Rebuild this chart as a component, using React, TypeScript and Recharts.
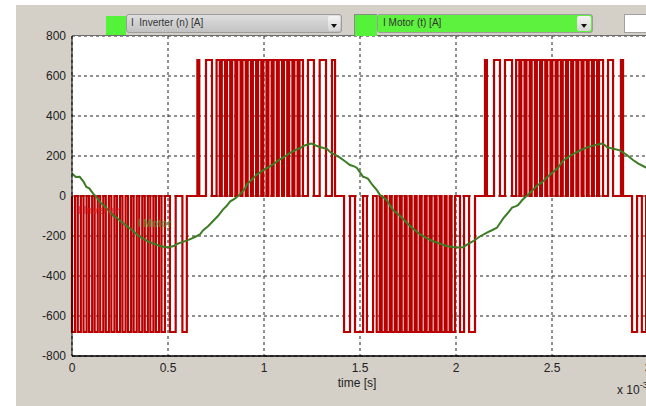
import React from 'react';
import { LineChart, Line, XAxis, YAxis, CartesianGrid } from 'recharts';

// ---- axis ticks ----
const xTicks = [0, 0.5, 1, 1.5, 2, 2.5, 3];
const yTicks = [-800, -600, -400, -200, 0, 200, 400, 600, 800];

// ---- inverter current: PWM pulses [start, end] in ms (x10^-3 s) ----
const inverterLevelNeg = -680;
const inverterLevelPos = 680;
const negPulsesA = [
  [0.000, 0.016], [0.030, 0.046], [0.060, 0.076], [0.089, 0.105], [0.118, 0.134],
  [0.147, 0.163], [0.176, 0.192], [0.205, 0.221], [0.234, 0.250], [0.263, 0.279],
  [0.292, 0.308], [0.321, 0.337], [0.350, 0.366], [0.379, 0.395], [0.408, 0.424],
  [0.437, 0.453], [0.466, 0.484], [0.510, 0.540], [0.575, 0.598],
];
const posPulsesA = [
  [0.653, 0.663], [0.698, 0.729], [0.753, 0.770], [0.780, 0.797], [0.807, 0.824],
  [0.834, 0.851], [0.861, 0.878], [0.888, 0.905], [0.915, 0.932], [0.942, 0.959],
  [0.969, 0.986], [0.996, 1.013], [1.023, 1.040], [1.050, 1.067], [1.077, 1.094],
  [1.104, 1.121], [1.131, 1.148], [1.158, 1.175], [1.185, 1.203], [1.229, 1.260],
  [1.290, 1.323], [1.354, 1.370],
];
const negPulsesB = [
  [1.417, 1.448], [1.474, 1.516], [1.536, 1.568], [1.587, 1.603], [1.613, 1.629],
  [1.639, 1.655], [1.665, 1.681], [1.691, 1.707], [1.717, 1.733], [1.743, 1.759],
  [1.769, 1.785], [1.795, 1.811], [1.821, 1.837], [1.847, 1.863], [1.873, 1.889],
  [1.899, 1.915], [1.925, 1.941], [1.951, 1.967], [1.977, 1.995], [2.021, 2.042],
  [2.068, 2.099],
];
const posPulsesB = [
  [2.151, 2.161], [2.198, 2.229], [2.255, 2.292], [2.313, 2.330], [2.340, 2.357],
  [2.367, 2.384], [2.394, 2.411], [2.421, 2.438], [2.448, 2.465], [2.475, 2.492],
  [2.502, 2.519], [2.529, 2.546], [2.556, 2.573], [2.583, 2.600], [2.610, 2.627],
  [2.637, 2.654], [2.664, 2.681], [2.691, 2.708], [2.718, 2.735], [2.745, 2.766],
  [2.792, 2.818], [2.859, 2.870],
];
const negPulsesC = [
  [2.917, 2.943], [2.968, 2.990],
];

// ---- motor current samples ----
const motorTime = [
  0, 0.02, 0.04, 0.06, 0.075, 0.09, 0.11, 0.13, 0.15, 0.17, 0.19, 0.215, 0.235, 0.255, 0.285,
  0.31, 0.335, 0.355, 0.38, 0.405, 0.43, 0.46, 0.49, 0.51, 0.53, 0.547, 0.57, 0.6, 0.625, 0.65,
  0.668, 0.682, 0.71, 0.735, 0.76, 0.786, 0.805, 0.823, 0.85, 0.875, 0.9, 0.911, 0.935, 0.964,
  0.98, 0.995, 1.02, 1.05, 1.075, 1.099, 1.13, 1.16, 1.188, 1.205, 1.224, 1.245, 1.26, 1.275,
  1.292, 1.31, 1.328, 1.344, 1.37, 1.396, 1.42, 1.448, 1.47, 1.484, 1.5, 1.516, 1.53, 1.542,
  1.565, 1.589, 1.604, 1.62, 1.641, 1.66, 1.672, 1.693, 1.72, 1.75, 1.776, 1.81, 1.849, 1.88,
  1.917, 1.95, 1.984, 2.01, 2.036, 2.06, 2.089, 2.12, 2.161, 2.19, 2.214, 2.23, 2.245, 2.27,
  2.292, 2.31, 2.323, 2.345, 2.37, 2.395, 2.422, 2.45, 2.474, 2.5, 2.53, 2.557, 2.59, 2.62,
  2.646, 2.68, 2.714, 2.74, 2.76, 2.775, 2.786, 2.82, 2.854, 2.89, 2.922, 2.95, 2.984, 3.0,
];
const motorCurrent = [
  112, 95, 96, 72, 45, 38, 12, -8, -35, -50, -72, -98, -110, -128, -150,
  -168, -190, -205, -218, -232, -240, -250, -256, -255, -250, -240, -232, -222, -212, -200,
  -190, -172, -150, -125, -100, -68, -50, -28, -12, 8, 35, 58, 80, 108,
  118, 128, 142, 160, 178, 192, 212, 228, 240, 250, 256, 262, 258, 250,
  245, 240, 236, 220, 206, 192, 175, 155, 148, 140, 118, 96, 92, 86,
  55, 28, 5, -5, -22, -52, -70, -86, -110, -140, -163, -190, -212, -226,
  -238, -250, -255, -258, -256, -242, -226, -205, -183, -170, -158, -135, -113, -85,
  -58, -52, -46, -20, 2, 25, 52, 70, 93, 115, 140, 176, 198, 215,
  228, 242, 252, 258, 262, 255, 244, 236, 228, 205, 180, 162, 145, 138,
];

// ---- build series ----
type Pt = { t: number; v: number };
const pulseBlocks: [number[][], number][] = [
  [negPulsesA, inverterLevelNeg],
  [posPulsesA, inverterLevelPos],
  [negPulsesB, inverterLevelNeg],
  [posPulsesB, inverterLevelPos],
  [negPulsesC, inverterLevelNeg],
];
const inverterData: Pt[] = [];
pulseBlocks.forEach(([pulses, level]) => {
  pulses.forEach(([s, e]) => {
    inverterData.push({ t: s, v: 0 }, { t: s, v: level }, { t: e, v: level }, { t: e, v: 0 });
  });
});
inverterData.push({ t: 3, v: 0 });

const motorData: Pt[] = motorTime.map((t, i) => ({ t, v: motorCurrent[i] }));

const FONT = '"Liberation Sans", Arial, sans-serif';

const Arrow = () => (
  <div style={{ width: 0, height: 0, borderLeft: '3.5px solid transparent', borderRight: '3.5px solid transparent', borderTop: '4px solid #111', margin: '8px auto 0' }} />
);

export default function App() {
  return (
    <div style={{ position: 'absolute', left: 0, top: 0, width: 646, height: 406, overflow: 'hidden', background: '#fff', fontFamily: FONT }}>
      <div style={{ position: 'absolute', left: 16, top: 5, width: 640, height: 410, background: '#d4d0c8' }} />
      <div style={{ position: 'absolute', left: 0, top: 0 }}>
        <LineChart width={660} height={406} margin={{ top: 36, right: 12, left: 0, bottom: 0 }}>
          <CartesianGrid fill="#fff" stroke="#222" strokeDasharray="3 3" horizontalValues={yTicks} verticalValues={xTicks} />
          <XAxis
            dataKey="t"
            type="number"
            domain={[0, 3]}
            ticks={xTicks}
            allowDuplicatedCategory={false}
            height={50}
            tickSize={0}
            tickMargin={7}
            tick={{ fill: '#222', fontSize: 12, fontFamily: FONT }}
            axisLine={{ stroke: '#000', strokeWidth: 1.5 }}
            interval={0}
          />
          <YAxis
            dataKey="v"
            type="number"
            width={72}
            domain={[-800, 800]}
            ticks={yTicks}
            tickSize={0}
            tickMargin={6}
            tick={{ fill: '#222', fontSize: 12, fontFamily: FONT }}
            axisLine={{ stroke: '#000', strokeWidth: 1 }}
            interval={0}
          />
          <Line data={inverterData} dataKey="v" type="linear" stroke="#b80000" strokeWidth={2.2} dot={false} activeDot={false} isAnimationActive={false} />
          <Line data={motorData} dataKey="v" type="linear" stroke="#3c7d23" strokeWidth={2} dot={false} activeDot={false} isAnimationActive={false} />
        </LineChart>
      </div>
      {/* plot top border */}
      <div style={{ position: 'absolute', left: 72, top: 35, width: 580, height: 1, background: '#6e6e6e' }} />
      {/* in-plot labels */}
      <div style={{ position: 'absolute', left: 78, top: 205, fontSize: 10, fontWeight: 'bold', color: '#d42020', opacity: 0.75 }}>I Inverter</div>
      <div style={{ position: 'absolute', left: 138, top: 218, fontSize: 10, fontWeight: 'bold', color: '#5f8f2a', opacity: 0.75 }}>I Motor</div>
      {/* header */}
      <div style={{ position: 'absolute', left: 106, top: 16, width: 20, height: 19, background: '#55f23a' }} />
      <div style={{ position: 'absolute', left: 126, top: 14, width: 214, height: 17, background: 'linear-gradient(#dedede,#c2c2c2)', border: '1px solid #9c9c9c', borderRadius: 3 }}>
        <div style={{ position: 'absolute', left: 4, top: 2, fontSize: 10, color: '#333', whiteSpace: 'pre' }}>{'I  Inverter (n) [A]'}</div>
        <div style={{ position: 'absolute', right: 1, top: 1, width: 12, height: 15, background: 'linear-gradient(#f4f4f4,#d6d6d6)', borderRadius: 2 }}><Arrow /></div>
      </div>
      <div style={{ position: 'absolute', left: 354, top: 14, width: 23, height: 22, background: '#55f23a', borderTop: '1px solid #8a8a8a', borderLeft: '1px solid #8a8a8a', boxSizing: 'border-box' }} />
      <div style={{ position: 'absolute', left: 377, top: 14, width: 214, height: 17, background: '#5cf23e', border: '1px solid #9c9c9c', borderRadius: 3 }}>
        <div style={{ position: 'absolute', left: 5, top: 2, fontSize: 10, color: '#333', whiteSpace: 'pre' }}>{'I Motor (t) [A]'}</div>
        <div style={{ position: 'absolute', right: 1, top: 1, width: 14, height: 15, background: 'linear-gradient(#f4f4f4,#d6d6d6)', borderRadius: 2 }}><Arrow /></div>
      </div>
      <div style={{ position: 'absolute', left: 624, top: 14, width: 30, height: 17, background: '#fff', border: '1px solid #a0a0a0' }} />
      {/* axis titles */}
      <div style={{ position: 'absolute', left: 357, top: 376, transform: 'translateX(-50%)', fontSize: 12, color: '#222' }}>time [s]</div>
      <div style={{ position: 'absolute', left: 617, top: 383, fontSize: 12, color: '#222', whiteSpace: 'nowrap' }}>x 10<span style={{ position: 'relative', top: -6, fontSize: 9 }}>-3</span></div>
    </div>
  );
}
